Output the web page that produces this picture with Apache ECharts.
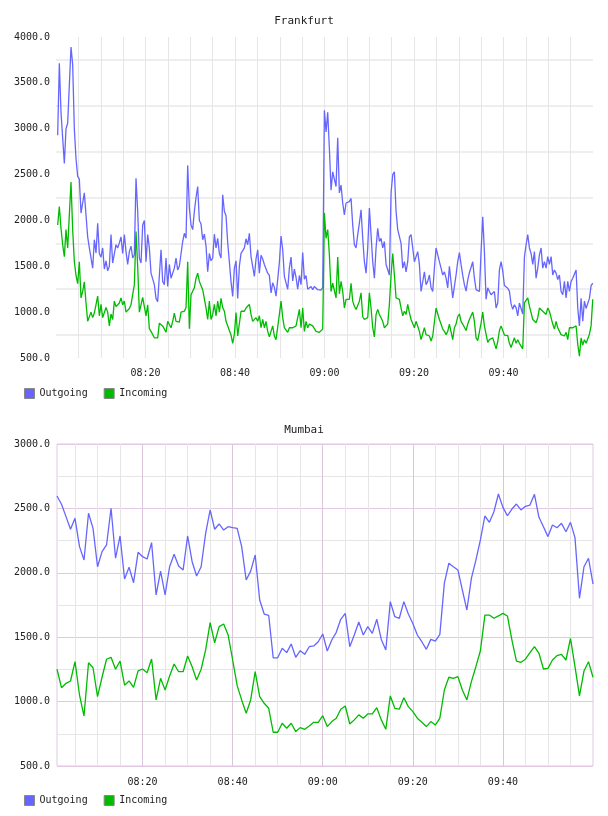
<!DOCTYPE html>
<html>
<head>
  <meta charset="UTF-8">
  <title>Frankfurt / Mumbai traffic</title>
  <script src="https://cdn.jsdelivr.net/npm/echarts@6/dist/echarts.min.js"></script>
  <style>
    html, body { margin: 0; padding: 0; background: #fff; }
    #main { width: 608px; height: 816px; }
  </style>
</head>
<body>
  <div id="main"></div>
  <script>
    // Frankfurt: one sample about every 22 s, minutes counted from 08:00
    var frankfurtStartMin = 0.373;
    var frankfurtStepMin = 0.3725;
    var frankfurtOutgoing = [
      2928, 3714, 3180, 2900, 2620, 3000, 3060, 3080, 3890, 3700,
      3000, 2675, 2480, 2450, 2080, 2100, 2300, 2060, 1820, 1700,
      1700, 1480, 1790, 1645, 1970, 1640, 1600, 1700, 1470, 1560,
      1450, 1500, 1845, 1535, 1535, 1735, 1700, 1755, 1820, 1640,
      1845, 1660, 1520, 1660, 1720, 1590, 1625, 2460, 2100, 1590,
      1535, 1950, 2000, 1550, 1845, 1700, 1425, 1405, 1300, 1150,
      1115, 1115, 1680, 1335, 1300, 1590, 1280, 1520, 1370, 1370,
      1480, 1590, 1460, 1500, 1480, 1770, 1860, 1805, 2600, 2135,
      1950, 1900, 2100, 2250, 2370, 2000, 1960, 1790, 1850, 1720,
      1440, 1640, 1560, 1590, 1850, 1700, 1805, 1640, 1590, 2280,
      2100, 2050, 1760, 1550, 1330, 1170, 1480, 1560, 1150, 1500,
      1640, 1630, 1700, 1800, 1735, 1860, 1605, 1600, 1390, 1580,
      1680, 1425, 1620, 1580, 1520, 1540, 1425, 1400, 1210, 1320,
      1270, 1175, 1190, 1540, 1830, 1680, 1390, 1320, 1250, 1480,
      1600, 1340, 1470, 1380, 1250, 1400, 1300, 1650, 1360, 1400,
      1250, 1265, 1280, 1245, 1280, 1265, 1245, 1225, 1240, 1270,
      3200, 2965, 3180, 2785, 2330, 2530, 2550, 2370, 2900, 2300,
      2385, 2190, 2060, 2190, 2170, 2205, 2240, 1950, 1735, 1700,
      1845, 1970, 2115, 1805, 1550, 1425, 1700, 2135, 1845, 1550,
      1370, 1700, 1915, 1770, 1805, 1700, 1770, 1520, 1520, 1405,
      2300, 2500, 2530, 2100, 1900, 1880, 1750, 1480, 1550, 1440,
      1550, 1820, 1845, 1700, 1550, 1535, 1660, 1520, 1225, 1225,
      1440, 1300, 1335, 1405, 1265, 1225, 1480, 1700, 1700, 1550,
      1480, 1405, 1440, 1370, 1265, 1500, 1480, 1155, 1280, 1405,
      1550, 1650, 1520, 1400, 1300, 1230, 1350, 1430, 1420, 1550,
      1370, 1245, 1225, 1225, 1660, 2040, 1660, 1140, 1265, 1225,
      1190, 1210, 1225, 1045, 1100, 1460, 1550, 1450, 1290, 1300,
      1260, 1230, 1090, 1030, 1080, 1050, 960, 1100, 1080, 980,
      1600, 1735, 1845, 1700, 1640, 1520, 1660, 1370, 1480, 1625,
      1700, 1480, 1550, 1480, 1605, 1520, 1605, 1405, 1460, 1425,
      1355, 1405, 1225, 1190, 1335, 1155, 1335, 1225, 1335, 1370,
      1370, 1460, 1045, 850, 1150, 900, 1120, 1040, 1030, 1150,
      1290, 1315
    ];
    var frankfurtIncoming = [
      1950, 2150, 1915, 1735, 1605, 1900, 1700, 2060, 2420, 1900,
      1550, 1400, 1310, 1550, 1155, 1225, 1330, 1100, 900, 885,
      1000, 940, 990, 1000, 1175, 960, 1085, 940, 940, 1050,
      1000, 850, 980, 920, 1120, 1060, 1070, 1100, 1155, 1080,
      1120, 1000, 990, 1040, 1080, 1100, 1300, 1880, 1500, 1000,
      1000, 1160, 1150, 960, 1080, 820, 790, 770, 720, 720,
      720, 880, 860, 850, 860, 780, 900, 880, 830, 900,
      990, 900, 890, 890, 1000, 1020, 1010, 1050, 1550, 820,
      1190, 1210, 1265, 1370, 1425, 1335, 1335, 1245, 1225, 1045,
      920, 1120, 920, 975, 1085, 960, 1120, 1000, 1150, 1050,
      1010, 900, 880, 800, 750, 660, 760, 995, 740, 730,
      1010, 1030, 1010, 1045, 1045, 1085, 975, 900, 885, 940,
      900, 960, 830, 920, 830, 900, 790, 730, 730, 850,
      740, 700, 700, 975, 1120, 940, 830, 815, 780, 830,
      815, 830, 850, 850, 830, 1030, 830, 1045, 790, 900,
      830, 870, 850, 850, 830, 790, 780, 780, 780, 815,
      2080, 1805, 1900, 1625, 1225, 1315, 1300, 1155, 1600, 1200,
      1335, 1225, 1045, 1140, 1155, 1140, 1315, 1120, 1065, 1030,
      1030, 1120, 1210, 950, 920, 940, 940, 1210, 1045, 830,
      730, 975, 1030, 975, 960, 900, 830, 815, 870, 1085,
      1405, 1640, 1405, 1155, 1155, 1140, 1045, 960, 1010, 975,
      1085, 995, 920, 920, 830, 900, 885, 790, 700, 720,
      830, 755, 775, 740, 685, 740, 755, 1045, 1030, 920,
      870, 815, 790, 755, 790, 870, 885, 700, 830, 870,
      950, 980, 900, 870, 850, 800, 870, 920, 920, 1000,
      900, 720, 690, 700, 880, 1000, 850, 760, 670, 700,
      700, 720, 700, 600, 680, 800, 850, 830, 750, 755,
      745, 660, 615, 610, 720, 660, 700, 660, 630, 600,
      1100, 1085, 1155, 1065, 995, 920, 920, 885, 940, 1045,
      1065, 1010, 1010, 975, 1045, 1010, 1010, 870, 815, 900,
      830, 850, 755, 740, 740, 780, 700, 830, 815, 830,
      815, 850, 650, 520, 720, 640, 700, 660, 640, 760,
      850, 1140
    ];

    // Mumbai: one sample per minute, 08:01 .. 10:00
    var mumbaiStartMin = 1;
    var mumbaiOutgoing = [
      2596, 2532, 2436, 2338, 2423, 2203, 2099, 2462, 2345, 2047,
      2164, 2216, 2501, 2113, 2286, 1952, 2043, 1923, 2159, 2125,
      2107, 2234, 1828, 2013, 1828, 2047, 2144, 2053, 2022, 2286,
      2086, 1975, 2047, 2306, 2488, 2338, 2379, 2332, 2358, 2350,
      2345, 2203, 1944, 2013, 2138, 1789, 1680, 1670, 1340, 1340,
      1414, 1380, 1447, 1344, 1395, 1367, 1426, 1432, 1465, 1525,
      1393, 1478, 1538, 1639, 1685, 1426, 1517, 1618, 1517, 1582,
      1530, 1639, 1483, 1401, 1776, 1659, 1647, 1776, 1680, 1607,
      1517, 1465, 1406, 1483, 1470, 1522, 1920, 2074, 2047, 2022,
      1866, 1711, 1957, 2099, 2255, 2441, 2392, 2474, 2612, 2508,
      2443, 2495, 2534, 2488, 2516, 2526, 2609, 2431, 2358, 2281,
      2371, 2350, 2384, 2319, 2392, 2273, 1802, 2047, 2113, 1913
    ];
    var mumbaiIncoming = [
      1251, 1108, 1142, 1160, 1310, 1051, 888, 1302, 1263, 1038,
      1189, 1329, 1344, 1251, 1315, 1127, 1160, 1111, 1238, 1253,
      1224, 1331, 1013, 1181, 1090, 1199, 1292, 1232, 1232, 1354,
      1271, 1168, 1251, 1401, 1613, 1457, 1582, 1603, 1517, 1323,
      1124, 1013, 910, 1013, 1232, 1038, 987, 948, 762, 762,
      832, 793, 832, 767, 798, 785, 810, 839, 839, 891,
      806, 845, 871, 941, 966, 826, 858, 897, 871, 904,
      904, 953, 858, 785, 1044, 948, 941, 1030, 961, 922,
      871, 839, 806, 845, 818, 871, 1090, 1189, 1181, 1194,
      1090, 1013, 1155, 1271, 1395, 1672, 1672, 1647, 1665, 1685,
      1665, 1478, 1315, 1305, 1329, 1380, 1426, 1375, 1253, 1258,
      1323, 1357, 1367, 1323, 1491, 1271, 1044, 1238, 1310, 1189
    ];

    var seriesNames = ['Outgoing', 'Incoming'];
    var yTicksFrankfurt = { min: 500, max: 4000, step: 500 };
    var yTicksMumbai = { min: 500, max: 3000, step: 500 };

    var font = 'DejaVu Sans Mono';
    var blue = '#6666ff';
    var green = '#00bb00';

    function withMinutes(values, start, step) {
      return values.map(function (v, i) { return [start + i * step, v]; });
    }

    function clock(m) {
      var h = 8 + Math.floor(m / 60);
      var mm = Math.round(m % 60);
      return (h < 10 ? '0' : '') + h + ':' + (mm < 10 ? '0' : '') + mm;
    }

    function timeLabel(v) {
      return (Math.abs(v % 20) < 1e-6 && v > 0 && v < 120) ? clock(v) : '';
    }

    var labelStyle = { fontFamily: font, fontSize: 10, color: '#222' };

    var myChart = echarts.init(document.getElementById('main'));
    var option = {
      animation: false,
      backgroundColor: '#fff',
      title: [
        { text: 'Frankfurt', left: 'center', top: 16, padding: 0,
          textStyle: { fontFamily: font, fontSize: 11, fontWeight: 'normal', color: '#222' } },
        { text: 'Mumbai', left: 'center', top: 425, padding: 0,
          textStyle: { fontFamily: font, fontSize: 11, fontWeight: 'normal', color: '#222' } }
      ],
      legend: [
        { data: seriesNames, left: 24, top: 388, padding: 0, itemGap: 16, itemWidth: 10, itemHeight: 10,
          icon: 'rect', itemStyle: { borderColor: '#888', borderWidth: 1 }, textStyle: labelStyle },
        { data: seriesNames, left: 24, top: 795, padding: 0, itemGap: 16, itemWidth: 10, itemHeight: 10,
          icon: 'rect', itemStyle: { borderColor: '#888', borderWidth: 1 }, textStyle: labelStyle }
      ],
      grid: [
        { left: 56, top: 37, width: 537, height: 321 },
        { left: 57, top: 444, width: 536, height: 322, show: true, borderColor: '#e2c8e2', borderWidth: 1 }
      ],
      xAxis: [
        {
          gridIndex: 0, type: 'value', min: 0, max: 120, interval: 5,
          axisLine: { show: false }, axisTick: { show: false },
          axisLabel: Object.assign({ margin: 10, formatter: timeLabel }, labelStyle),
          splitLine: { show: true, showMinLine: false, showMaxLine: false, lineStyle: { color: '#e6e6e6', width: 1 } }
        },
        {
          // 5-minute grey lines of the Mumbai panel
          gridIndex: 1, type: 'value', position: 'top', min: 1, max: 120,
          minInterval: 5, maxInterval: 5, splitNumber: 24,
          axisLine: { show: false }, axisTick: { show: false }, axisLabel: { show: false },
          splitLine: { show: true, showMinLine: false, showMaxLine: false, lineStyle: { color: '#e6e6e6', width: 1 } }
        },
        {
          gridIndex: 1, type: 'value', position: 'bottom', min: 1, max: 120,
          minInterval: 20, maxInterval: 20, splitNumber: 6, z: 2,
          axisLine: { show: false }, axisTick: { show: false },
          axisLabel: Object.assign({ margin: 11, formatter: timeLabel }, labelStyle),
          splitLine: { show: true, showMinLine: false, showMaxLine: false, lineStyle: { color: '#dcc4dc', width: 1 } }
        }
      ],
      yAxis: [
        {
          gridIndex: 0, type: 'value', min: yTicksFrankfurt.min, max: yTicksFrankfurt.max, interval: yTicksFrankfurt.step,
          axisLine: { show: false }, axisTick: { show: false },
          axisLabel: Object.assign({ margin: 6, formatter: function (v) { return v.toFixed(1); } }, labelStyle),
          splitLine: { show: false },
          minorTick: { show: false, splitNumber: 2 },
          minorSplitLine: { show: true, lineStyle: { color: '#eeeeee', width: 2 } }
        },
        {
          gridIndex: 1, type: 'value', min: yTicksMumbai.min, max: yTicksMumbai.max, interval: yTicksMumbai.step,
          axisLine: { show: false }, axisTick: { show: false },
          axisLabel: Object.assign({ margin: 7, formatter: function (v) { return v.toFixed(1); } }, labelStyle),
          splitLine: { show: true, lineStyle: { color: '#e2c8e2', width: 1 } },
          minorTick: { show: false, splitNumber: 2 },
          minorSplitLine: { show: true, lineStyle: { color: '#e6e6e6', width: 1 } }
        }
      ],
      series: [
        { name: 'Outgoing', type: 'line', xAxisIndex: 0, yAxisIndex: 0, showSymbol: false, color: blue,
          lineStyle: { width: 1.3 }, data: withMinutes(frankfurtOutgoing, frankfurtStartMin, frankfurtStepMin) },
        { name: 'Incoming', type: 'line', xAxisIndex: 0, yAxisIndex: 0, showSymbol: false, color: green,
          lineStyle: { width: 1.3 }, data: withMinutes(frankfurtIncoming, frankfurtStartMin, frankfurtStepMin) },
        { name: 'Outgoing', type: 'line', xAxisIndex: 2, yAxisIndex: 1, showSymbol: false, color: blue,
          lineStyle: { width: 1.3 }, data: withMinutes(mumbaiOutgoing, mumbaiStartMin, 1) },
        { name: 'Incoming', type: 'line', xAxisIndex: 2, yAxisIndex: 1, showSymbol: false, color: green,
          lineStyle: { width: 1.3 }, data: withMinutes(mumbaiIncoming, mumbaiStartMin, 1) }
      ]
    };
    myChart.setOption(option);
  </script>
</body>
</html>
